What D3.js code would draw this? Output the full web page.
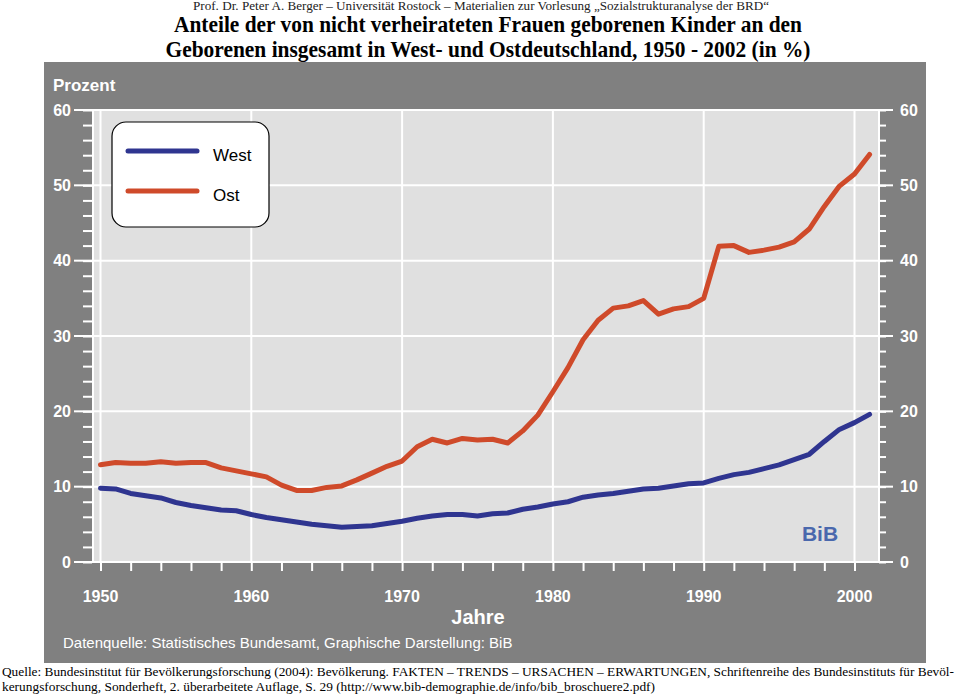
<!DOCTYPE html>
<html>
<head>
<meta charset="utf-8">
<script src="https://cdn.jsdelivr.net/npm/d3@7"></script>
<style>
  html, body { margin: 0; padding: 0; background: #ffffff; }
  svg { display: block; }
</style>
</head>
<body>
<svg id="chart" width="960" height="697"></svg>
<script>
// ---- Data ----
const years = d3.range(1950, 2002);
const west = [9.8, 9.7, 9.1, 8.8, 8.5, 7.9, 7.5, 7.2, 6.9, 6.8,
              6.3, 5.9, 5.6, 5.3, 5.0, 4.8, 4.6, 4.7, 4.8, 5.1,
              5.4, 5.8, 6.1, 6.3, 6.3, 6.1, 6.4, 6.5, 7.0, 7.3,
              7.7, 8.0, 8.6, 8.9, 9.1, 9.4, 9.7, 9.8, 10.1, 10.4,
              10.5, 11.1, 11.6, 11.9, 12.4, 12.9, 13.6, 14.3, 16.0, 17.6,
              18.5, 19.6];
const ost = [12.9, 13.2, 13.1, 13.1, 13.3, 13.1, 13.2, 13.2, 12.5, 12.1,
             11.7, 11.3, 10.2, 9.5, 9.5, 9.9, 10.1, 10.9, 11.8, 12.7,
             13.4, 15.3, 16.3, 15.8, 16.4, 16.2, 16.3, 15.8, 17.4, 19.5,
             22.6, 25.8, 29.5, 32.1, 33.7, 34.0, 34.7, 32.9, 33.6, 33.9,
             35.0, 41.9, 42.0, 41.1, 41.4, 41.8, 42.5, 44.2, 47.2, 49.9,
             51.5, 54.1];
const seriesNames = ["West", "Ost"];
const yMajorTicks = [0, 10, 20, 30, 40, 50, 60];
const xMajorTicks = [1950, 1960, 1970, 1980, 1990, 2000];

const headerText = "Prof. Dr. Peter A. Berger – Universität Rostock – Materialien zur Vorlesung „Sozialstrukturanalyse der BRD“";
const titleLines = ["Anteile der von nicht verheirateten Frauen geborenen Kinder an den",
                    "Geborenen insgesamt in West- und Ostdeutschland, 1950 - 2002 (in %)"];
const yAxisTitle = "Prozent";
const xAxisTitle = "Jahre";
const dataSource = "Datenquelle: Statistisches Bundesamt, Graphische Darstellung: BiB";
const logoText = "BiB";
const footLines = ["Quelle: Bundesinstitut für Bevölkerungsforschung (2004): Bevölkerung. FAKTEN – TRENDS – URSACHEN – ERWARTUNGEN, Schriftenreihe des Bundesinstituts für Bevöl-",
                   "kerungsforschung, Sonderheft, 2. überarbeitete Auflage, S. 29 (http://www.bib-demographie.de/info/bib_broschuere2.pdf)"];

// ---- Layout ----
const svg = d3.select("#chart");
const colors = { West: "#2f3590", Ost: "#cf4a2a" };
const panel = { x0: 44, x1: 926, y0: 62, y1: 663 };
const plot = { x0: 92, x1: 879, y0: 110, y1: 562 };

const x = d3.scaleLinear().domain([1950, 2000]).range([100.5, 854.5]);
const y = d3.scaleLinear().domain([0, 60]).range([562, 110]);

// ---- Header & title ----
const serif = "'Liberation Serif', 'Times New Roman', serif";
const sans = "'Liberation Sans', Arial, sans-serif";

svg.append("text").attr("x", 481).attr("y", 10).attr("text-anchor", "middle")
  .attr("font-family", serif).attr("font-size", 12.5).attr("fill", "#222")
  .attr("textLength", 576).attr("lengthAdjust", "spacingAndGlyphs")
  .text(headerText);
svg.selectAll(".title").data(titleLines).enter().append("text")
  .attr("class", "title")
  .attr("x", 488).attr("y", (d, i) => 32 + i * 25)
  .attr("text-anchor", "middle")
  .attr("font-family", serif).attr("font-weight", "bold").attr("font-size", 23)
  .attr("fill", "#000")
  .attr("textLength", (d, i) => i === 0 ? 628 : 645)
  .attr("lengthAdjust", "spacingAndGlyphs")
  .text(d => d);

// ---- Panel ----
svg.append("rect").attr("x", panel.x0).attr("y", panel.y0)
  .attr("width", panel.x1 - panel.x0).attr("height", panel.y1 - panel.y0)
  .attr("fill", "#808080");
svg.append("rect").attr("x", plot.x0).attr("y", plot.y0)
  .attr("width", plot.x1 - plot.x0).attr("height", plot.y1 - plot.y0)
  .attr("fill", "#e0e0e0");

// gridlines
svg.append("g").selectAll("line").data(xMajorTicks).enter().append("line")
  .attr("x1", d => x(d)).attr("x2", d => x(d))
  .attr("y1", plot.y0).attr("y2", plot.y1)
  .attr("stroke", "#ffffff").attr("stroke-width", 2);
svg.append("g").selectAll("line").data(yMajorTicks).enter().append("line")
  .attr("x1", plot.x0).attr("x2", plot.x1)
  .attr("y1", d => y(d)).attr("y2", d => y(d))
  .attr("stroke", "#ffffff").attr("stroke-width", 2);

// axes
const leftAxis = d3.axisLeft(y).tickValues(d3.range(0, 61, 2))
  .tickSize(9).tickFormat("");
const rightAxis = d3.axisRight(y).tickValues(d3.range(0, 61, 2))
  .tickSize(7).tickFormat("");
const bottomAxis = d3.axisBottom(x).tickValues(d3.range(1950, 2001, 2))
  .tickSize(9).tickFormat("");

function styleAxis(g) {
  g.select(".domain").remove();
  g.selectAll(".tick line").attr("stroke", "#ffffff").attr("stroke-width", 2);
}
svg.append("g").attr("transform", `translate(${plot.x0},0)`).call(leftAxis).call(styleAxis);
svg.append("g").attr("transform", `translate(${plot.x1},0)`).call(rightAxis).call(styleAxis);
svg.append("g").attr("transform", `translate(0,${plot.y1})`).call(bottomAxis).call(styleAxis);

// major ticks (longer)
svg.append("g").selectAll("line").data(yMajorTicks).enter().append("line")
  .attr("x1", plot.x0 - 18).attr("x2", plot.x0)
  .attr("y1", d => y(d)).attr("y2", d => y(d))
  .attr("stroke", "#ffffff").attr("stroke-width", 2);
svg.append("g").selectAll("line").data(yMajorTicks).enter().append("line")
  .attr("x1", plot.x1).attr("x2", plot.x1 + 14)
  .attr("y1", d => y(d)).attr("y2", d => y(d))
  .attr("stroke", "#ffffff").attr("stroke-width", 2);

// axis lines
svg.append("line").attr("x1", plot.x0 + 1).attr("x2", plot.x0 + 1)
  .attr("y1", plot.y0).attr("y2", plot.y1 + 1)
  .attr("stroke", "#fff").attr("stroke-width", 2);
svg.append("line").attr("x1", plot.x1).attr("x2", plot.x1)
  .attr("y1", plot.y0).attr("y2", plot.y1 + 1)
  .attr("stroke", "#fff").attr("stroke-width", 2);
svg.append("line").attr("x1", plot.x0).attr("x2", plot.x1 + 1)
  .attr("y1", plot.y1).attr("y2", plot.y1)
  .attr("stroke", "#fff").attr("stroke-width", 2);

// tick labels
svg.append("g").selectAll("text").data(yMajorTicks).enter().append("text")
  .attr("x", 71).attr("y", d => y(d)).attr("dy", "0.36em")
  .attr("text-anchor", "end").attr("font-family", sans).attr("font-weight", "bold")
  .attr("font-size", 16).attr("fill", "#fff").text(d => d);
svg.append("g").selectAll("text").data(yMajorTicks).enter().append("text")
  .attr("x", 900).attr("y", d => y(d)).attr("dy", "0.36em")
  .attr("text-anchor", "start").attr("font-family", sans).attr("font-weight", "bold")
  .attr("font-size", 16).attr("fill", "#fff").text(d => d);
svg.append("g").selectAll("text").data(xMajorTicks).enter().append("text")
  .attr("x", d => x(d)).attr("y", 602)
  .attr("text-anchor", "middle").attr("font-family", sans).attr("font-weight", "bold")
  .attr("font-size", 16).attr("fill", "#fff").text(d => d);

// axis titles
svg.append("text").attr("x", 53).attr("y", 91)
  .attr("font-family", sans).attr("font-weight", "bold").attr("font-size", 17)
  .attr("fill", "#fff").text(yAxisTitle);
svg.append("text").attr("x", 478).attr("y", 624).attr("text-anchor", "middle")
  .attr("font-family", sans).attr("font-weight", "bold").attr("font-size", 20)
  .attr("fill", "#fff").text(xAxisTitle);
svg.append("text").attr("x", 63).attr("y", 648)
  .attr("font-family", sans).attr("font-size", 15)
  .attr("fill", "#fff").text(dataSource);

// logo
svg.append("text").attr("x", 820).attr("y", 541).attr("text-anchor", "middle")
  .attr("font-family", sans).attr("font-weight", "bold").attr("font-size", 21)
  .attr("fill", "#4a68ad").text(logoText);

// ---- Lines ----
const seriesData = { West: west, Ost: ost };
const line = d3.line().x((d, i) => x(years[i])).y(d => y(d));
svg.append("g").selectAll("path").data(seriesNames).enter().append("path")
  .attr("d", s => line(seriesData[s]))
  .attr("fill", "none").attr("stroke", s => colors[s])
  .attr("stroke-width", 5).attr("stroke-linejoin", "round").attr("stroke-linecap", "round");

// ---- Legend ----
const lg = svg.append("g");
lg.append("rect").attr("x", 112).attr("y", 122).attr("width", 157).attr("height", 105)
  .attr("rx", 14).attr("ry", 14)
  .attr("fill", "#fff").attr("stroke", "#000").attr("stroke-width", 1.2);
seriesNames.forEach((s, i) => {
  const ly = 151 + i * 40;
  lg.append("line").attr("x1", 128).attr("x2", 197).attr("y1", ly).attr("y2", ly)
    .attr("stroke", colors[s]).attr("stroke-width", 5).attr("stroke-linecap", "round");
  lg.append("text").attr("x", 213).attr("y", ly + 10)
    .attr("font-family", sans).attr("font-size", 17).attr("fill", "#000").text(s);
});

// ---- Footnote ----
svg.selectAll(".foot").data(footLines).enter().append("text")
  .attr("class", "foot")
  .attr("x", 2).attr("y", (d, i) => 676 + i * 15)
  .attr("font-family", serif).attr("font-size", 13).attr("fill", "#000")
  .attr("textLength", (d, i) => i === 0 ? 952 : 653)
  .attr("lengthAdjust", "spacingAndGlyphs")
  .text(d => d);
</script>
</body>
</html>
